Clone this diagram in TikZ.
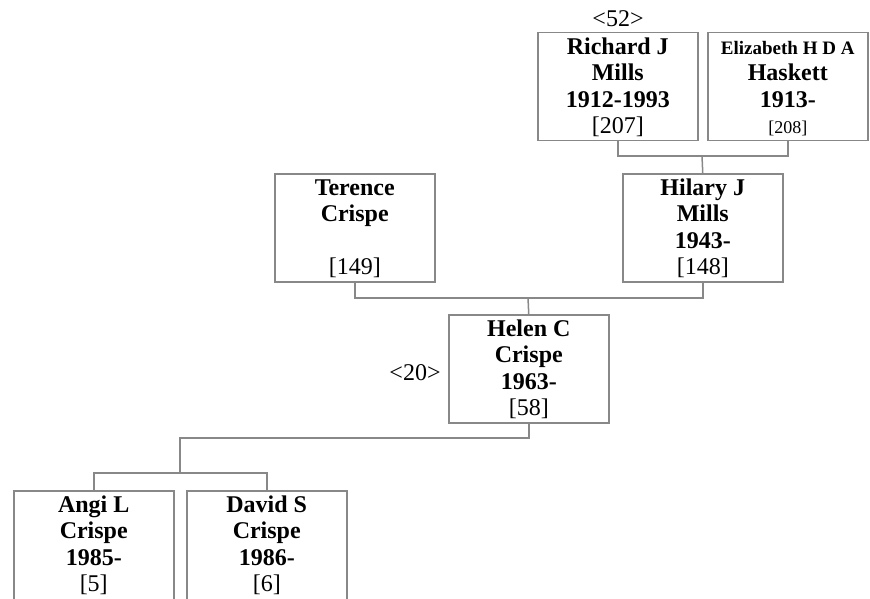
\documentclass[tikz,border=0pt]{standalone}
\usepackage{fontspec}
\setmainfont{Liberation Serif}
\newcommand{\pbox}[3][108pt]{\parbox[t][#1][t]{#2}{\centering\fontsize{24}{26.5}\selectfont\rule{0pt}{21.5pt}#3}}
\newcommand{\smallid}{\fontsize{18}{26.5}\selectfont}
\newcommand{\smallname}{\fontsize{19}{26.5}\selectfont}
\definecolor{boxgray}{RGB}{136,136,136}
\tikzset{
  person/.style={draw=boxgray, line width=1.5pt, inner sep=0pt, anchor=north west},
  link/.style={draw=boxgray, line width=1.5pt},
  gen/.style={font=\fontsize{24}{26}\selectfont, inner sep=0pt, anchor=base}
}
\begin{document}
\begin{tikzpicture}[x=1pt, y=-1pt]
\useasboundingbox (0,0) rectangle (870,599);
\clip (0,0) rectangle (870,599);
% boxes
\node[person] (R) at (537,32) {\pbox{160pt}{\bfseries Richard J\\Mills\\1912-1993\\{\mdseries [207]}}};
\node[person] (E) at (707,32) {\pbox{160pt}{\bfseries {\smallname Elizabeth H D A}\\Haskett\\1913-\\{\mdseries\smallid [208]}}};
\node[person] (T) at (274,173) {\pbox{160pt}{\bfseries Terence\\Crispe\\\mbox{}\\{\mdseries [149]}}};
\node[person] (H) at (622,173) {\pbox{160pt}{\bfseries Hilary J\\Mills\\1943-\\{\mdseries [148]}}};
\node[person] (C) at (448,314) {\pbox{160pt}{\bfseries Helen C\\Crispe\\1963-\\{\mdseries [58]}}};
\node[person] (A) at (13,490) {\pbox[115pt]{160pt}{\bfseries Angi L\\Crispe\\1985-\\{\mdseries [5]}}};
\node[person] (D) at (186,490) {\pbox[115pt]{160pt}{\bfseries David S\\Crispe\\1986-\\{\mdseries [6]}}};
% generation labels
\node[gen] (g52) at (618,27) {<52>};
\node[gen] (g20) at (415,380) {<20>};
% connectors
\coordinate (j1) at (702,156);
\draw[link] (R.south) |- (j1);
\draw[link] (E.south) |- (j1);
\draw[link] (j1) -- (H.north);
\coordinate (j2) at (528,298);
\draw[link] (T.south) |- (j2);
\draw[link] (H.south) |- (j2);
\draw[link] (j2) -- (C.north);
\coordinate (j3a) at (180,438);
\coordinate (j3) at (180,473);
\draw[link] (C.south) |- (j3a) -- (j3);
\draw[link] (A.north) |- (j3) -| (D.north);
\end{tikzpicture}
\end{document}
